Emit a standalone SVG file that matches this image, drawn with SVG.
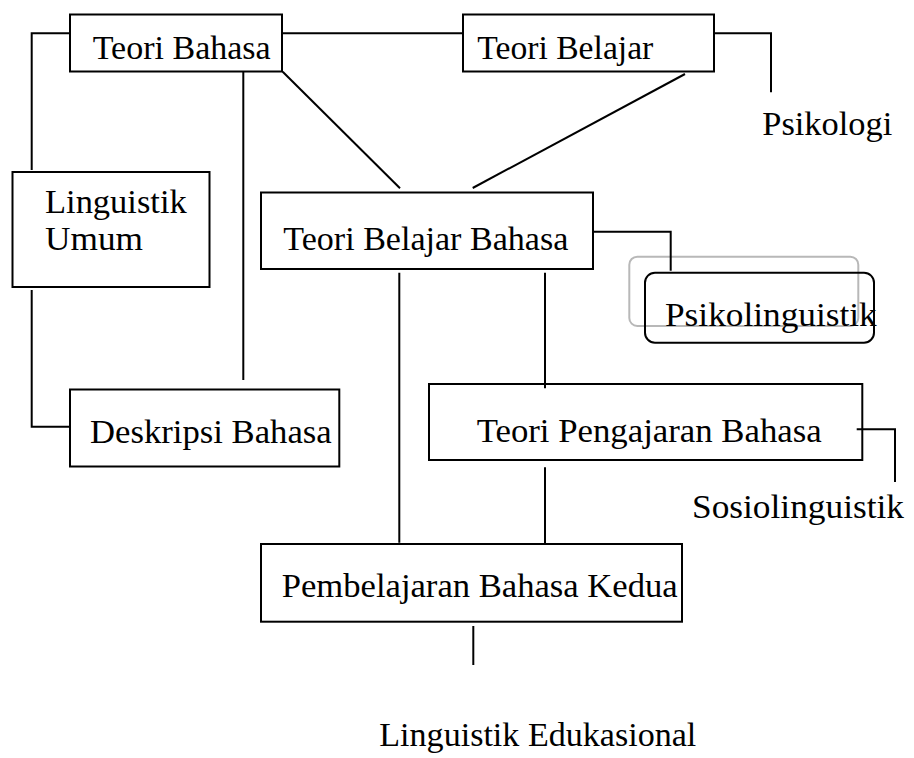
<svg xmlns="http://www.w3.org/2000/svg" width="914" height="758" viewBox="0 0 914 758">
  <style>
    .box { fill: #ffffff; stroke: #000000; stroke-width: 2; }
    .rbox { fill: none; stroke: #000000; stroke-width: 2; }
    .ghost { fill: none; stroke: #b8b8b8; stroke-width: 2; }
    .lbl { font-family: "Liberation Serif", "Times New Roman", serif; font-size: 34px; fill: #000000; }
    .wire { fill: none; stroke: #000000; stroke-width: 2; }
  </style>

  <rect width="914" height="758" fill="#ffffff"/>

  <g id="teori-bahasa">
    <rect class="box" x="70" y="14.5" width="212" height="57"/>
    <text class="lbl" x="92.7" y="59" textLength="178" lengthAdjust="spacingAndGlyphs">Teori Bahasa</text>
  </g>

  <g id="teori-belajar">
    <rect class="box" x="463" y="14.5" width="251" height="57"/>
    <text class="lbl" x="477.3" y="59" textLength="176" lengthAdjust="spacingAndGlyphs">Teori Belajar</text>
  </g>

  <g id="psikologi">
    <text class="lbl" x="762.3" y="135" textLength="130" lengthAdjust="spacingAndGlyphs">Psikologi</text>
  </g>

  <g id="linguistik-umum">
    <rect class="box" x="12.5" y="172" width="197" height="115"/>
    <text class="lbl" x="45" y="212.7" textLength="141.7" lengthAdjust="spacingAndGlyphs">Linguistik</text>
    <text class="lbl" x="45" y="250" textLength="98" lengthAdjust="spacingAndGlyphs">Umum</text>
  </g>

  <g id="teori-belajar-bahasa">
    <rect class="box" x="261" y="192.5" width="332" height="76.5"/>
    <text class="lbl" x="283.3" y="250" textLength="285" lengthAdjust="spacingAndGlyphs">Teori Belajar Bahasa</text>
  </g>

  <g id="psikolinguistik">
    <rect class="ghost" x="629.3" y="256.7" width="229" height="69.3" rx="8" ry="8"/>
    <rect class="rbox" x="645" y="272.7" width="229" height="70" rx="10" ry="10"/>
    <text class="lbl" x="665" y="326" textLength="211.7" lengthAdjust="spacingAndGlyphs">Psikolinguistik</text>
  </g>

  <g id="deskripsi-bahasa">
    <rect class="box" x="70" y="389.5" width="269.3" height="77"/>
    <text class="lbl" x="90" y="443.3" textLength="241.7" lengthAdjust="spacingAndGlyphs">Deskripsi Bahasa</text>
  </g>

  <g id="teori-pengajaran-bahasa">
    <rect class="box" x="429" y="384" width="433.3" height="76"/>
    <text class="lbl" x="476.7" y="441.7" textLength="345" lengthAdjust="spacingAndGlyphs">Teori Pengajaran Bahasa</text>
  </g>

  <g id="sosiolinguistik">
    <text class="lbl" x="692" y="518" textLength="212" lengthAdjust="spacingAndGlyphs">Sosiolinguistik</text>
  </g>

  <g id="pembelajaran-bahasa-kedua">
    <rect class="box" x="261" y="544" width="421" height="77.7"/>
    <text class="lbl" x="281.7" y="596.7" textLength="396" lengthAdjust="spacingAndGlyphs">Pembelajaran Bahasa Kedua</text>
  </g>

  <g id="linguistik-edukasional">
    <text class="lbl" x="379.3" y="746" textLength="317" lengthAdjust="spacingAndGlyphs">Linguistik Edukasional</text>
  </g>

  <g id="connectors">
    <polyline class="wire" points="70,33.3 31.7,33.3 31.7,170"/>
    <polyline class="wire" points="31.7,290 31.7,426.7 70,426.7"/>
    <line class="wire" x1="243.3" y1="71.5" x2="243.3" y2="380"/>
    <line class="wire" x1="282" y1="33.3" x2="463" y2="33.3"/>
    <polyline class="wire" points="714,33.3 771,33.3 771,92.3"/>
    <line class="wire" x1="282.7" y1="71.7" x2="400" y2="188.3"/>
    <line class="wire" x1="685" y1="74" x2="472.7" y2="188"/>
    <polyline class="wire" points="593,231.7 670.7,231.7 670.7,270.7"/>
    <line class="wire" x1="399.3" y1="272.7" x2="399.3" y2="542.7"/>
    <line class="wire" x1="545" y1="272.7" x2="545" y2="388.3"/>
    <polyline class="wire" points="856.7,429.3 895,429.3 895,482"/>
    <line class="wire" x1="545" y1="467.3" x2="545" y2="545"/>
    <line class="wire" x1="473.3" y1="626" x2="473.3" y2="665"/>
  </g>
</svg>
